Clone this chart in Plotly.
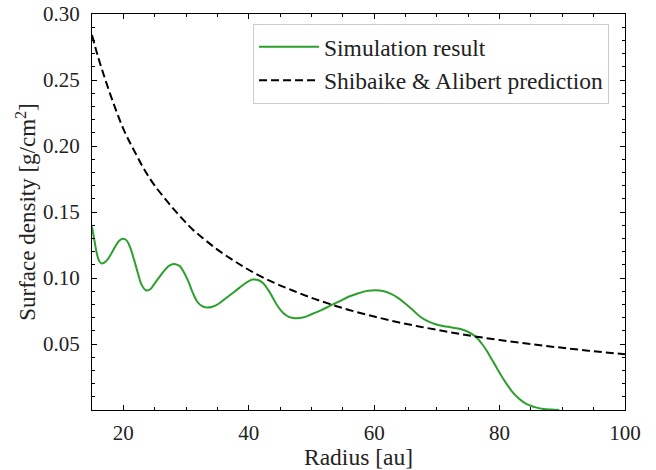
import plotly.graph_objects as go

# Simulation result (green curve)
sim_r = [15.0, 15.4, 15.8, 16.2, 16.6, 17.2, 17.9, 18.6, 19.3, 19.9, 20.5, 21.1,
         21.7, 22.3, 22.9, 23.6, 24.3, 25.0, 25.8, 26.6, 27.4, 28.3, 29.0, 29.7,
         30.4, 31.1, 31.8, 32.5, 33.3, 34.2, 35.2, 36.3, 37.4, 38.5, 39.6, 40.6,
         41.5, 42.3, 43.1, 43.9, 44.7, 45.5, 46.4, 47.4, 48.6, 50.0, 51.5, 53.0,
         54.5, 56.0, 57.5, 59.0, 60.2, 61.4, 62.6, 63.8, 65.0, 66.2, 67.4, 68.6,
         69.8, 71.0, 72.2, 73.4, 74.5, 75.5, 76.4, 77.2, 78.0, 78.8, 79.6, 80.4,
         81.2, 82.0, 82.9, 83.8, 84.8, 85.9, 87.0, 88.2, 89.5]
sim_sigma = [0.139, 0.128, 0.118, 0.1125, 0.111, 0.1125, 0.117, 0.123, 0.128, 0.1297, 0.1285, 0.123,
             0.114, 0.104, 0.095, 0.0907, 0.0915, 0.096, 0.101, 0.106, 0.1095, 0.1105, 0.109, 0.104,
             0.097, 0.0885, 0.082, 0.0788, 0.0776, 0.0782, 0.0805, 0.0845, 0.0885, 0.0925, 0.0965, 0.0988,
             0.0985, 0.096, 0.091, 0.0845, 0.078, 0.0735, 0.0705, 0.0695, 0.070, 0.0725, 0.0755, 0.0790,
             0.0825, 0.086, 0.0885, 0.0903, 0.0908, 0.0902, 0.0882, 0.085, 0.0805, 0.0755, 0.0705, 0.0672,
             0.065, 0.0637, 0.0627, 0.0617, 0.0602, 0.0578, 0.0545, 0.050, 0.0445, 0.038, 0.0315, 0.025,
             0.0192, 0.014, 0.0095, 0.006, 0.0035, 0.0018, 0.0008, 0.0003, 0.0]

# Shibaike & Alibert prediction (dashed curve)
pred_r = [15, 16, 17, 18, 19, 20, 21, 22, 23, 24, 25, 27, 29, 31, 33, 35, 37, 39, 41,
          44, 47, 50, 53, 56, 60, 64, 68, 72, 76, 80, 85, 90, 95, 100]
pred_sigma = [0.284, 0.267, 0.252, 0.238, 0.225, 0.213, 0.203, 0.194, 0.185, 0.177, 0.170, 0.158,
              0.147, 0.137, 0.129, 0.1215, 0.115, 0.109, 0.1035, 0.0965, 0.0905, 0.085, 0.0802,
              0.0758, 0.0708, 0.0663, 0.0625, 0.0590, 0.0558, 0.0530, 0.0499, 0.0471, 0.0445, 0.0422]

x_ticks = [20, 40, 60, 80, 100]
y_ticks = [0.05, 0.10, 0.15, 0.20, 0.25, 0.30]

FONT = "Liberation Serif"
TXT = "#222222"

fig = go.Figure()
fig.add_trace(go.Scatter(x=sim_r, y=sim_sigma, mode="lines", name="Simulation result",
                         line=dict(color="#2ca02c", width=2, shape="spline", smoothing=1.0)))
fig.add_trace(go.Scatter(x=pred_r, y=pred_sigma, mode="lines", name="Shibaike &amp; Alibert prediction",
                         line=dict(color="black", width=2, dash="8px,4px", shape="spline", smoothing=1.0)))

axis_common = dict(
    showline=True, linecolor="black", linewidth=1, mirror="allticks",
    ticks="inside", ticklen=5, tickwidth=1, tickcolor="black",
    showgrid=False, zeroline=False, automargin=False,
    tickfont=dict(family=FONT, size=21, color=TXT),
)

fig.update_xaxes(range=[15, 100], tickvals=x_ticks, ticktext=[str(v) for v in x_ticks],
                 minor=dict(dtick=5, tick0=0, ticks="inside", ticklen=3, tickcolor="black", showgrid=False),
                 title=dict(text="Radius [au]", font=dict(family=FONT, size=23.5, color=TXT), standoff=0),
                 ticklabelstandoff=4,
                 **axis_common)
fig.update_yaxes(range=[0, 0.30], tickvals=y_ticks, ticktext=[f"{v:.2f}" for v in y_ticks],
                 minor=dict(dtick=0.01, tick0=0, ticks="inside", ticklen=3, tickcolor="black", showgrid=False),
                 title=dict(text="Surface density [g/cm<sup>2</sup>]", font=dict(family=FONT, size=23, color=TXT), standoff=0),
                 ticklabelstandoff=7,
                 **axis_common)

fig.update_layout(
    width=656, height=470,
    margin=dict(l=91.5, r=31, t=13.5, b=60),
    plot_bgcolor="white", paper_bgcolor="white",
    showlegend=True,
    legend=dict(x=0.97, y=0.975, xanchor="right", yanchor="top", itemwidth=60,
                bgcolor="rgba(255,255,255,0.8)", bordercolor="#cccccc", borderwidth=1,
                font=dict(family=FONT, size=23.5, color=TXT)),
)

fig.write_html("out.html")
